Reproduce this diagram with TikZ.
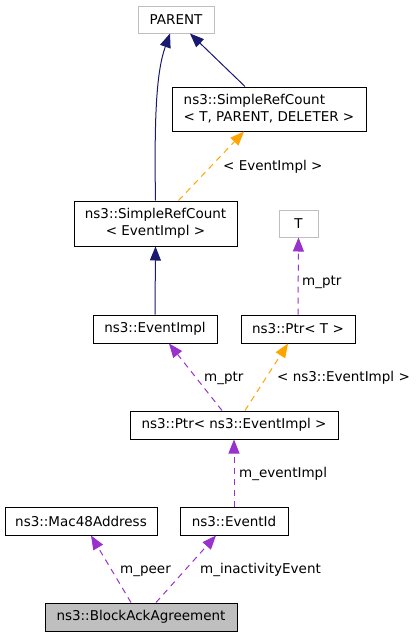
\documentclass[tikz,border=0pt]{standalone}
\usepackage{fontspec}
\setmainfont{DejaVu Sans}
\usetikzlibrary{arrows.meta}
\definecolor{inhblue}{RGB}{25,25,112}
\definecolor{usepurple}{RGB}{153,50,204}
\definecolor{tmplorange}{RGB}{255,165,0}
\definecolor{boxgray}{RGB}{191,191,191}

\begin{document}
\begin{tikzpicture}[x=1pt,y=-1pt,
    cls/.style={draw=black,line width=1pt,fill=white,inner sep=0pt,
      minimum height=28pt,font=\fontsize{13.5}{17}\selectfont},
    ext/.style={cls,draw=boxgray},
    lbl/.style={anchor=base west,inner sep=0pt,font=\fontsize{13.5}{17}\selectfont},
    inh/.style={draw=inhblue,line width=1pt,-{Triangle[length=14pt,width=11pt]}},
    use/.style={draw=usepurple,line width=1pt,dash pattern=on 6pt off 5pt,
      -{Triangle[length=14pt,width=11pt]}},
    tmpl/.style={use,draw=tmplorange}]
  \useasboundingbox[fill=white] (0,0) rectangle (415,637);
  % classes
  \node[ext,minimum width=76pt,minimum height=27pt] (parent) at (176,19.5) {PARENT};
  \node[ext,minimum width=39pt,minimum height=27pt] (t) at (298.5,223.5) {T};
  \node[cls,minimum width=194pt,minimum height=44pt,align=left] (srctpd) at (269,109)
    {ns3::SimpleRefCount\\< T, PARENT, DELETER >};
  \node[cls,minimum width=163pt,minimum height=45pt,align=center] (srcevent) at (155.5,223.5)
    {ns3::SimpleRefCount\\< EventImpl >};
  \foreach \nm/\x/\y/\w/\txt in {%
    eventimpl/155/329/124/{ns3::EventImpl},
    ptrt/298/329/114/{ns3::Ptr< T >},
    ptrevent/234/425/208/{ns3::Ptr< ns3::EventImpl >},
    mac/81/521/152/{ns3::Mac48Address},
    eventid/234/521/108/{ns3::EventId}}{%
      \node[cls,minimum width=\w pt] (\nm) at (\x,\y) {\txt};
    }
  \node[cls,fill=boxgray,minimum width=192pt] (blockack) at (141,617) {ns3::BlockAckAgreement};
  % inheritance
  \draw[inh] (srcevent.north) .. controls (154,110) and (157,70) .. ([xshift=-6]parent.south);
  \draw[inh] ([xshift=-24]srctpd.north) -- ([xshift=14]parent.south);
  \draw[inh] (eventimpl.north) -- (srcevent.south);
  % templates
  \draw[tmpl] ([xshift=23]srcevent.north) -- ([xshift=-25]srctpd.south);
  \draw[tmpl] ([xshift=11]ptrevent.north) -- ([xshift=-10]ptrt.south);
  % members
  \draw[use] (ptrt.north) -- (t.south);
  \draw[use] ([xshift=-12]ptrevent.north) -- ([xshift=14]eventimpl.south);
  \draw[use] (eventid.north) -- (ptrevent.south);
  \draw[use] ([xshift=-10]blockack.north) -- ([xshift=10]mac.south);
  \draw[use] ([xshift=15]blockack.north) -- ([xshift=-18]eventid.south);
  % labels
  \node[lbl] (lbltmpl) at (223,170) {< EventImpl >};
  \node[lbl] (lblptrt) at (302,285) {m\_ptr};
  \node[lbl] (lblptr) at (204,381) {m\_ptr};
  \node[lbl] (lblptrtmpl) at (277,381) {< ns3::EventImpl >};
  \node[lbl] (lblimpl) at (239,477) {m\_eventImpl};
  \node[lbl] (lblpeer) at (120,573) {m\_peer};
  \node[lbl] (lblinact) at (200,573) {m\_inactivityEvent};
\end{tikzpicture}
\end{document}
